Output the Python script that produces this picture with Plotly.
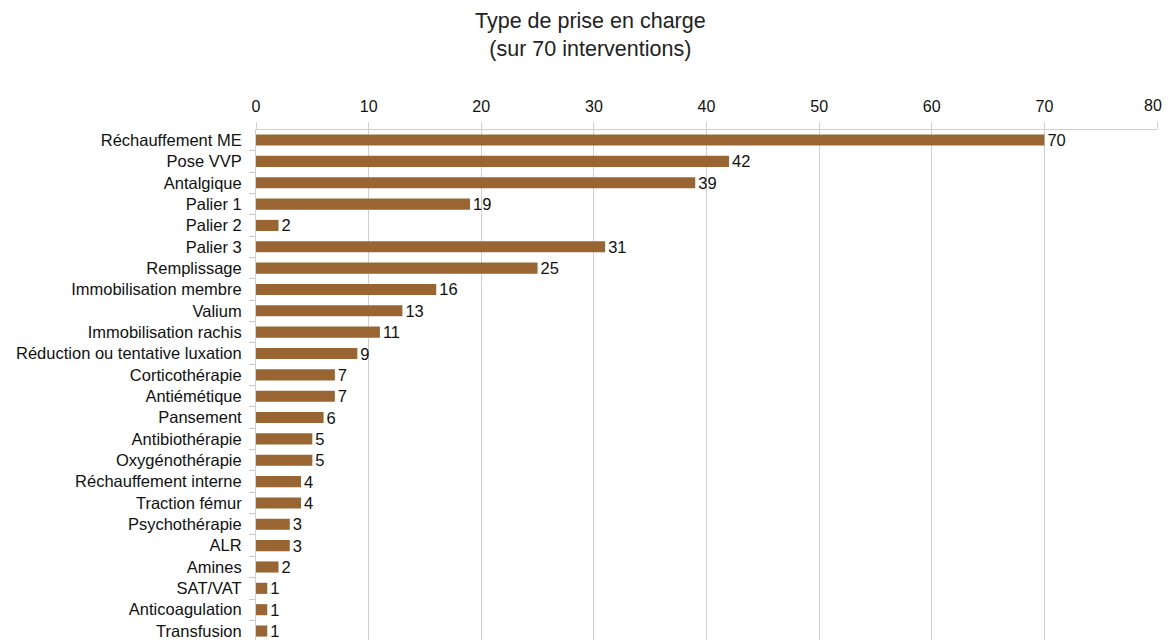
import plotly.graph_objects as go

categories = ["Réchauffement ME", "Pose VVP", "Antalgique", "Palier 1", "Palier 2", "Palier 3",
              "Remplissage", "Immobilisation membre", "Valium", "Immobilisation rachis",
              "Réduction ou tentative luxation", "Corticothérapie", "Antiémétique", "Pansement",
              "Antibiothérapie", "Oxygénothérapie", "Réchauffement interne", "Traction fémur",
              "Psychothérapie", "ALR", "Amines", "SAT/VAT", "Anticoagulation", "Transfusion"]
values = [70, 42, 39, 19, 2, 31, 25, 16, 13, 11, 9, 7, 7, 6, 5, 5, 4, 4, 3, 3, 2, 1, 1, 1]
x_ticks = [0, 10, 20, 30, 40, 50, 60, 70, 80]
x_max = 80

FONT = "Liberation Sans"
fig = go.Figure(go.Bar(
    y=categories, x=values, orientation="h",
    marker=dict(color="#996633", line=dict(width=0)),
    text=[str(v) for v in values], textposition="outside",
    constraintext="none",
    textfont=dict(family=FONT, size=16.5, color="#111111"),
    cliponaxis=False,
))

W, H = 1162, 632
L, R, T, B = 248, 13, 122, 0
# last tick label is drawn as an annotation so that it stays inside the visible page
tick_text = [str(t) for t in x_ticks[:-1]] + [""]
fig.update_layout(
    width=W, height=H,
    paper_bgcolor="white", plot_bgcolor="white",
    margin=dict(l=L, r=R, t=T, b=B, autoexpand=False),
    bargap=0.48,
    showlegend=False,
    font=dict(family=FONT, size=16, color="#111111"),
    annotations=[
        dict(text="Type de prise en charge<br>(sur 70 interventions)",
             xref="paper", yref="paper",
             x=(582 - L) / (W - L - R), y=1 + (T - 26.5) / (H - T - B),
             xanchor="center", yanchor="middle", showarrow=False,
             font=dict(family=FONT, size=21.5, color="#222222")),
        dict(text=str(x_ticks[-1]), x=x_max, xref="x", yref="paper",
             y=1, yshift=14, xshift=7, xanchor="right", yanchor="bottom",
             showarrow=False, font=dict(family=FONT, size=16, color="#111111")),
    ],
)
fig.update_xaxes(side="top", range=[0, x_max], tickvals=x_ticks, ticktext=tick_text,
                 showgrid=True, gridcolor="#d0d0d0", gridwidth=1,
                 zeroline=False, showline=True, linecolor="#d0d0d0",
                 ticks="outside", ticklen=7, tickcolor="#d0d0d0",
                 ticklabelstandoff=4,
                 tickfont=dict(family=FONT, size=16, color="#111111"))
fig.update_yaxes(type="category", categoryorder="array", categoryarray=categories,
                 range=[23.42, -0.47],
                 showgrid=False, zeroline=False, showline=True, linecolor="#d0d0d0",
                 ticks="outside", ticklen=6, tickcolor="#c8c8c8", tickson="boundaries",
                 ticklabelstandoff=10,
                 tickfont=dict(family=FONT, size=16.5, color="#111111"))

fig.write_html("out.html")
